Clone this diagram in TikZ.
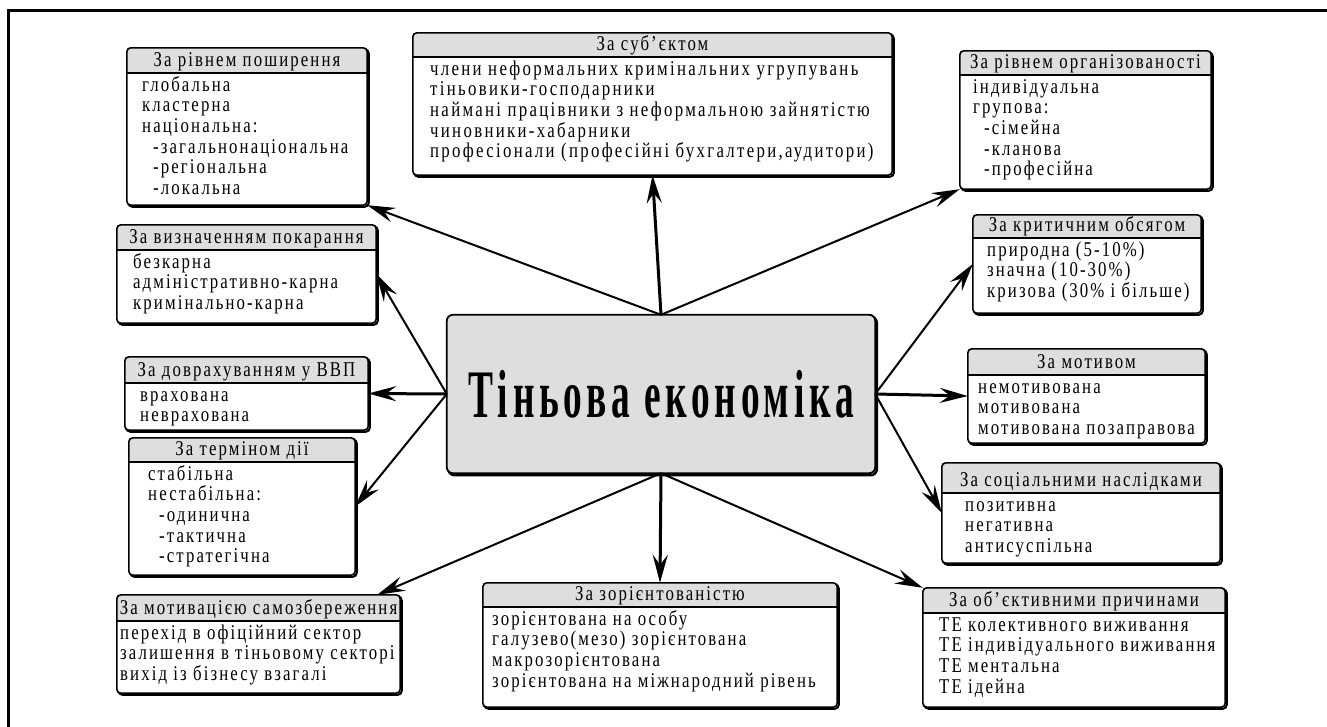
\documentclass[tikz,border=0pt]{standalone}
\usepackage{fontspec}
\setmainfont{Liberation Serif}[FakeStretch=0.8,LetterSpace=10]
\newfontfamily\widefont{Liberation Serif}[FakeStretch=0.8,LetterSpace=11]
\newfontfamily\titlefont{Liberation Serif}[FakeStretch=0.55,LetterSpace=7]
\usetikzlibrary{arrows.meta,calc}
\definecolor{hdrgray}{HTML}{DEDEDE}
\newcommand\subi{\hspace*{11pt}}
\tikzset{
 itm/.style={inner sep=0pt, font=\fontsize{21}{20.7}\selectfont},
 hdr/.style={inner sep=0pt, font=\fontsize{21}{20.7}\selectfont},
 boxanchor/.style={inner sep=0pt, draw=none},
 conn/.style={line width=2pt, -{Stealth[length=28pt,width=15pt,inset=10pt]}},
 connthick/.style={conn, line width=3pt},
}
\newcommand\catbox[9]{%
 \node[boxanchor, minimum width={(#4-#2)*1pt}, minimum height={(#5-#3)*1pt}] (#1) at ({(#2+#4)/2},{(#3+#5)/2}) {};
 \draw[line width=2pt, rounded corners=4pt] ([shift={(1.6,1.6)}]#1.north west) rectangle ([shift={(1.6,1.6)}]#1.south east);
 \fill[white, rounded corners=4pt] (#1.north west) rectangle (#1.south east);
 \begin{scope}
  \clip[rounded corners=4pt] (#1.north west) rectangle (#1.south east);
  \fill[hdrgray] (#1.north west) rectangle (#4,#6);
 \end{scope}
 \draw[line width=1.5pt] (#2,#6) -- (#4,#6);
 \draw[line width=1.6pt, rounded corners=4pt] (#1.north west) rectangle (#1.south east);
 \node[hdr, anchor=base] (#1-h) at ({(#2+#4)/2},#6-7) {#8};
 \foreach \t [count=\i] in {#9} {\node[itm, anchor=base west] (#1-\i) at (#7,{#6+18+(\i-1)*20.7}) {\t};}
}
\begin{document}
\begin{tikzpicture}[x=1pt,y=-1pt]
\useasboundingbox (0,0) rectangle (1327,726);
\draw[line width=3pt] (8,730) -- (8,10) -- (1330,10);

% centre
\node[boxanchor, minimum width=428pt, minimum height=158pt] (C) at (661,394) {};
\draw[line width=2.4pt, rounded corners=6pt] ([shift={(1.6,2)}]C.north west) rectangle ([shift={(1.6,2)}]C.south east);
\draw[fill=hdrgray, line width=1.8pt, rounded corners=6pt] (C.north west) rectangle (C.south east);
\node[inner sep=0pt] (Ct) at (C.center) {\titlefont\bfseries\fontsize{68}{70}\selectfont Тіньова економіка};

\catbox{B1}{127}{48}{367}{205}{73}{142}{За рівнем поширення}{глобальна,кластерна,національна:,\subi-загальнонаціональна,\subi-регіональна,\subi-локальна}
\catbox{B2}{413}{33}{892}{175}{57}{430}{За суб’єктом}{\widefont члени неформальних кримінальних угрупувань,\widefont тіньовики-господарники,\widefont наймані працівники з неформальною зайнятістю,\widefont чиновники-хабарники,{\widefont професіонали (професійні бухгалтери,аудитори)}}
\catbox{B3}{960}{51}{1211}{189}{75}{973}{За рівнем організованості}{індивідуальна,групова:,\subi-сімейна,\subi-кланова,\subi-професійна}
\catbox{B4}{973}{215}{1201}{313}{238}{987}{За критичним обсягом}{природна (5-10\%),значна (10-30\%),кризова (30\% і більше)}
\catbox{B5}{117}{225}{376}{323}{250}{133}{За визначенням покарання}{безкарна,адміністративно-карна,кримінально-карна}
\catbox{B6}{125}{357}{368}{430}{383}{140}{За доврахуванням у ВВП}{врахована,неврахована}
\catbox{B7}{129}{438}{355}{575}{462}{148}{За терміном дії}{стабільна,нестабільна:,\subi-одинична,\subi-тактична,\subi-стратегічна}
\catbox{B8}{968}{349}{1205}{443}{375}{978}{За мотивом}{немотивована,мотивована,мотивована позаправова}
\catbox{B9}{942}{463}{1220}{563}{493}{965}{За соціальними наслідками}{позитивна,негативна,антисуспільна}
\catbox{B10}{117}{595}{400}{693}{621}{120}{За мотивацією самозбереження}{перехід в офіційний сектор,залишення в тіньовому секторі,вихід із бізнесу взагалі}
\catbox{B11}{483}{583}{837}{707}{607}{492}{За зорієнтованістю}{зорієнтована на особу,галузево(мезо) зорієнтована,макрозорієнтована,зорієнтована на міжнародний рівень}
\catbox{B12}{923}{588}{1225}{707}{613}{939}{За об’єктивними причинами}{ТЕ колективного виживання,ТЕ індивідуального виживання,ТЕ ментальна,ТЕ ідейна}

\coordinate (B10t) at ($(B10.north east)+(-23,0)$);
\draw[conn] (C.north) -- (B1.south east);
\draw[connthick] (C.north) -- (B2.south);
\draw[conn] (C.north) -- (B3.south west);
\draw[conn] (C.east) -- (B4.west);
\draw[connthick] (C.east) -- (B8.west);
\draw[conn] (C.east) -- (B9.west);
\draw[conn] (C.west) -- (B5.east);
\draw[connthick] (C.west) -- (B6.east);
\draw[conn] (C.west) -- (B7.east);
\draw[conn] (C.south) -- (B10t);
\draw[connthick] (C.south) -- (B11.north);
\draw[conn] (C.south) -- (B12.north west);
\end{tikzpicture}
\end{document}
